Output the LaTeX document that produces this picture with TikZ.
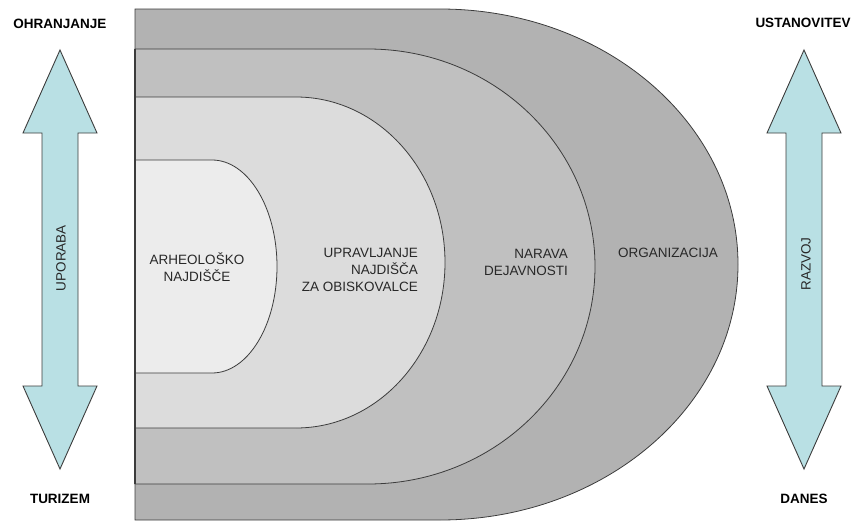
\documentclass[tikz,border=0pt]{standalone}
\usepackage{fontspec}
\setmainfont{Liberation Sans}
\usepackage{tikz}

\definecolor{layerA}{RGB}{178,178,178}
\definecolor{layerB}{RGB}{192,192,192}
\definecolor{layerC}{RGB}{220,220,220}
\definecolor{layerD}{RGB}{236,236,236}
\definecolor{arrowfill}{RGB}{185,224,228}
\definecolor{edgegray}{RGB}{60,60,60}
\definecolor{textgray}{RGB}{40,40,40}

\tikzset{
	layer/.style={draw=edgegray, line width=0.8pt},
	bigarrow/.style={draw=edgegray, fill=arrowfill, line width=0.9pt, line join=miter},
	ringlabel/.style={font=\fontsize{13.5}{17}\selectfont, text=textgray, inner sep=0pt},
	cornerlabel/.style={font=\fontsize{13.5}{16}\selectfont\bfseries, text=black, inner sep=0pt}
}

\begin{document}
\begin{tikzpicture}[x=1pt, y=1pt]
		\useasboundingbox (0,0) rectangle (855,-522);

		% nested layers, outer first
		\filldraw[layer, fill=layerA] (135,-9) -- (440,-9) arc[start angle=90, end angle=-90, x radius=298, y radius=255.5] -- (135,-520) -- cycle;
		\filldraw[layer, fill=layerB] (135,-49) -- (368,-49) arc[start angle=90, end angle=-90, x radius=227, y radius=217.5] -- (135,-484) -- cycle;
		\filldraw[layer, fill=layerC] (135,-97) -- (296,-97) arc[start angle=90, end angle=-90, x radius=149, y radius=165.5] -- (135,-428) -- cycle;
		\filldraw[layer, fill=layerD] (135,-160) -- (212,-160) arc[start angle=90, end angle=-90, x radius=65, y radius=106.5] -- (135,-373) -- cycle;
		\draw[edgegray, line width=1.4pt] (135,-49) -- (135,-484);

		% double arrows
		\draw[bigarrow] (60,-50) -- (97,-133) -- (78,-133) -- (78,-386) -- (97,-386) -- (60,-469) -- (23,-386) -- (42,-386) -- (42,-133) -- (23,-133) -- cycle;
		\draw[bigarrow] (804,-50) -- (841,-133) -- (822,-133) -- (822,-386) -- (841,-386) -- (804,-469) -- (767,-386) -- (786,-386) -- (786,-133) -- (767,-133) -- cycle;

		\node[ringlabel, align=center] (site) at (197,-267) {ARHEOLOŠKO\\NAJDIŠČE};
		\node[ringlabel, align=right, anchor=east] (visitors) at (418,-270) {UPRAVLJANJE\\NAJDIŠČA\\ZA OBISKOVALCE};
		\node[ringlabel, align=right, anchor=east] (nature) at (568,-262) {NARAVA\\DEJAVNOSTI};
		\node[ringlabel] (organisation) at (668,-253) {ORGANIZACIJA};

		\node[ringlabel, rotate=90] (use) at (61,-258) {UPORABA};
		\node[ringlabel, rotate=90] (growth) at (806,-264) {RAZVOJ};

		\node[cornerlabel] (keep) at (60,-24) {OHRANJANJE};
		\node[cornerlabel] (founding) at (803,-23) {USTANOVITEV};
		\node[cornerlabel] (tourism) at (60,-499) {TURIZEM};
		\node[cornerlabel] (today) at (804,-499) {DANES};
	\end{tikzpicture}
\end{document}
